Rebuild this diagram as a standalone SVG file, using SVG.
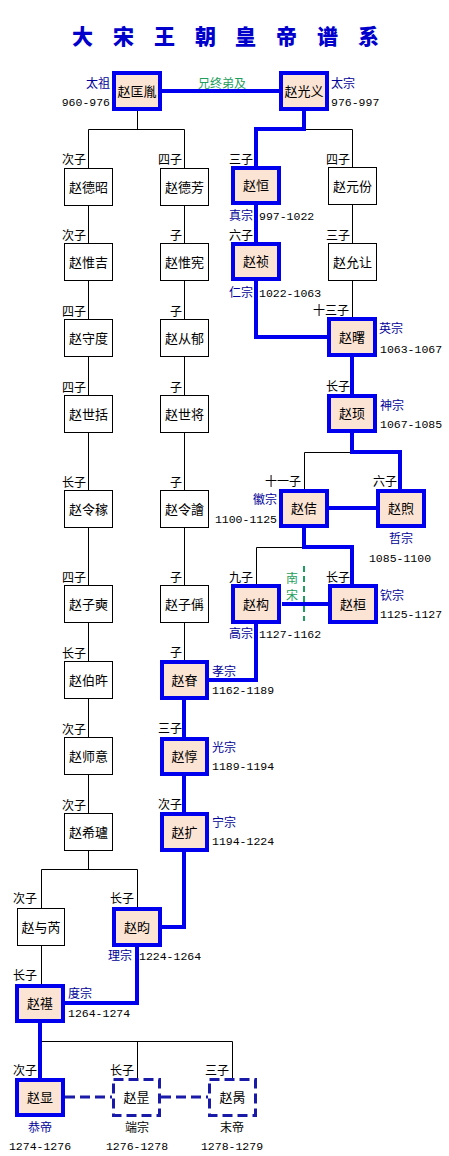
<svg xmlns="http://www.w3.org/2000/svg" width="449" height="1156" viewBox="0 0 449 1156">
<style>
text{font-family:"Noto Sans CJK SC","Liberation Sans",sans-serif;}
.title{font-size:21px;font-weight:900;fill:#0000cc;}
.nm{font-size:13px;fill:#000;text-anchor:middle;}
.lb{font-size:12px;fill:#000;text-anchor:end;}
.rg{font-size:12px;fill:#000099;}
.yr{font-family:"Liberation Mono",monospace;font-size:11.5px;fill:#000;}
.mid{text-anchor:middle;}
.end{text-anchor:end;}
.plain{fill:#fff;stroke:#000;stroke-width:1;}
.emp{fill:#fce4d4;stroke:#0000ee;stroke-width:4;}
.dash{fill:#fff;stroke:#1a1aa8;stroke-width:3;stroke-dasharray:10 5;}
.thin{fill:none;stroke:#000;stroke-width:1;}
.blue{fill:none;stroke:#0000ee;stroke-width:4;}
.bdash{fill:none;stroke:#1a1aa8;stroke-width:3;stroke-dasharray:10 5;}
.gdash{fill:none;stroke:#1e9e5e;stroke-width:2;stroke-dasharray:6 4;}
.green{font-size:12px;fill:#1e9e5e;}
</style>
<rect width="449" height="1156" fill="#fff"/>
<text class="title" x="72 113 154 195 235 276 317 358" y="44">大宋王朝皇帝谱系</text>

<g id="connectors">
  <g class="thin">
    <path d="M137.5 111V129.5M88.5 129.5H184.5M88.5 129.5V869M184.5 129.5V660"/>
    <path d="M304 129.5H352.5V318"/>
    <path d="M352 452.5H304.5V489"/>
    <path d="M304 547.5H256.5V584"/>
    <path d="M41.5 869.5H137.5V907M41.5 869.5V946V984"/>
    <path d="M40.5 1041.5H232.5V1078M137.5 1041.5V1078"/>
  </g>
  <g class="blue">
    <path d="M162 91H279"/>
    <path d="M304 111V129H256V167"/>
    <path d="M256 205V243"/>
    <path d="M256 281V337H327"/>
    <path d="M352 357V395"/>
    <path d="M352 433V452H400V489"/>
    <path d="M329 508H376"/>
    <path d="M304 528V547H352V584"/>
    <path d="M282 604H328"/>
    <path d="M256 624V680H209"/>
    <path d="M184 700V737"/>
    <path d="M184 776V812"/>
    <path d="M184 852V927H162"/>
    <path d="M137 947V1003H65"/>
    <path d="M40 1023V1078"/>
  </g>
  <path class="bdash" d="M65 1097H112M161 1097H208"/>
  <path class="gdash" d="M304 566V621"/>
</g>

<text class="green" x="222" y="88" text-anchor="middle">兄终弟及</text>
<text class="green" x="292" y="583" text-anchor="middle">南</text>
<text class="green" x="292" y="600" text-anchor="middle">宋</text>

<!-- emperors -->
<g id="n-kuangyin"><rect class="emp" x="114" y="73" width="46" height="36"/><text class="nm" x="137" y="96">赵匡胤</text>
<text class="rg end" x="110" y="88">太祖</text><text class="yr end" x="110" y="106">960-976</text></g>
<g id="n-guangyi"><rect class="emp" x="281" y="73" width="46" height="36"/><text class="nm" x="304" y="96">赵光义</text>
<text class="rg" x="331" y="88">太宗</text><text class="yr" x="331" y="106">976-997</text></g>
<g id="n-heng"><rect class="emp" x="233" y="168" width="46" height="35"/><text class="nm" x="256" y="190">赵恒</text>
<text class="lb" x="253" y="164">三子</text><text class="rg" x="229" y="220">真宗</text><text class="yr" x="259" y="220">997-1022</text></g>
<g id="n-zhen"><rect class="emp" x="233" y="244" width="46" height="35"/><text class="nm" x="256" y="266">赵祯</text>
<text class="lb" x="253" y="240">六子</text><text class="rg" x="229" y="297">仁宗</text><text class="yr" x="259" y="297">1022-1063</text></g>
<g id="n-yuanfen"><rect class="plain" x="328.5" y="167.5" width="48" height="37"/><text class="nm" x="352.5" y="191">赵元份</text>
<text class="lb" x="350" y="164">四子</text></g>
<g id="n-yunrang"><rect class="plain" x="328.5" y="243.5" width="48" height="37"/><text class="nm" x="352.5" y="267">赵允让</text>
<text class="lb" x="350" y="240">三子</text></g>
<g id="n-shu"><rect class="emp" x="329" y="319" width="46" height="36"/><text class="nm" x="352" y="342">赵曙</text>
<text class="lb" x="349" y="315">十三子</text><text class="rg" x="379" y="333">英宗</text><text class="yr" x="380" y="353">1063-1067</text></g>
<g id="n-xu"><rect class="emp" x="329" y="396" width="46" height="35"/><text class="nm" x="352" y="418">赵顼</text>
<text class="lb" x="350" y="391">长子</text><text class="rg" x="380" y="410">神宗</text><text class="yr" x="380" y="428">1067-1085</text></g>
<g id="n-ji"><rect class="emp" x="281" y="491" width="46" height="35"/><text class="nm" x="304" y="513">赵佶</text>
<text class="lb" x="301" y="486">十一子</text><text class="rg end" x="277" y="504">徽宗</text><text class="yr end" x="277" y="523">1100-1125</text></g>
<g id="n-xu2"><rect class="emp" x="378" y="491" width="46" height="35"/><text class="nm" x="401" y="513">赵煦</text>
<text class="lb" x="397" y="486">六子</text><text class="rg mid" x="401" y="543">哲宗</text><text class="yr mid" x="400" y="562">1085-1100</text></g>
<g id="n-gou"><rect class="emp" x="233" y="586" width="46" height="36"/><text class="nm" x="256" y="609">赵构</text>
<text class="lb" x="253" y="582">九子</text><text class="rg" x="229" y="638">高宗</text><text class="yr" x="259" y="638">1127-1162</text></g>
<g id="n-huan"><rect class="emp" x="330" y="586" width="46" height="36"/><text class="nm" x="353" y="609">赵桓</text>
<text class="lb" x="350" y="582">长子</text><text class="rg" x="380" y="600">钦宗</text><text class="yr" x="380" y="618">1125-1127</text></g>
<g id="n-shen"><rect class="emp" x="162" y="662" width="45" height="36"/><text class="nm" x="184.5" y="685">赵眘</text>
<text class="lb" x="182" y="657">子</text><text class="rg" x="212" y="676">孝宗</text><text class="yr" x="212" y="694">1162-1189</text></g>
<g id="n-dun"><rect class="emp" x="162" y="739" width="45" height="35"/><text class="nm" x="184.5" y="761">赵惇</text>
<text class="lb" x="182" y="733">三子</text><text class="rg" x="212" y="752">光宗</text><text class="yr" x="212" y="770">1189-1194</text></g>
<g id="n-kuo"><rect class="emp" x="162" y="814" width="45" height="36"/><text class="nm" x="184.5" y="837">赵扩</text>
<text class="lb" x="182" y="809">次子</text><text class="rg" x="212" y="827">宁宗</text><text class="yr" x="212" y="845">1194-1224</text></g>
<g id="n-yun"><rect class="emp" x="114" y="909" width="46" height="36"/><text class="nm" x="137" y="932">赵昀</text>
<text class="lb" x="134" y="903">长子</text><text class="rg" x="108" y="960">理宗</text><text class="yr" x="139" y="960">1224-1264</text></g>
<g id="n-qi"><rect class="emp" x="17" y="986" width="46" height="35"/><text class="nm" x="40" y="1008">赵禥</text>
<text class="lb" x="37" y="980">长子</text><text class="rg" x="68" y="998">度宗</text><text class="yr" x="68" y="1017">1264-1274</text></g>
<g id="n-xian"><rect class="emp" x="17" y="1080" width="46" height="35"/><text class="nm" x="40" y="1102">赵显</text>
<text class="lb" x="37" y="1075">次子</text><text class="rg mid" x="40" y="1132">恭帝</text><text class="yr mid" x="40" y="1150">1274-1276</text></g>
<g id="n-shi"><rect class="dash" x="113.5" y="1079.5" width="46" height="36"/><text class="nm" x="136.5" y="1102">赵昰</text>
<text class="lb" x="134" y="1075">长子</text><text class="lb mid" x="137" y="1132">端宗</text><text class="yr mid" x="137" y="1150">1276-1278</text></g>
<g id="n-bing"><rect class="dash" x="209.5" y="1079.5" width="46" height="36"/><text class="nm" x="232.5" y="1102">赵昺</text>
<text class="lb" x="229" y="1075">三子</text><text class="lb mid" x="232" y="1132">末帝</text><text class="yr mid" x="232" y="1150">1278-1279</text></g>

<!-- left branch (太祖 line) -->
<g id="n-dezhao"><rect class="plain" x="64.5" y="168.5" width="48" height="37"/><text class="nm" x="88.5" y="192">赵德昭</text><text class="lb" x="86" y="164">次子</text></g>
<g id="n-weiji"><rect class="plain" x="64.5" y="243.5" width="48" height="37"/><text class="nm" x="88.5" y="267">赵惟吉</text><text class="lb" x="86" y="240">次子</text></g>
<g id="n-shoudu"><rect class="plain" x="64.5" y="319.5" width="48" height="37"/><text class="nm" x="88.5" y="343">赵守度</text><text class="lb" x="86" y="316">四子</text></g>
<g id="n-shikuo"><rect class="plain" x="64.5" y="395.5" width="48" height="37"/><text class="nm" x="88.5" y="419">赵世括</text><text class="lb" x="86" y="392">四子</text></g>
<g id="n-lingjia"><rect class="plain" x="64.5" y="490.5" width="48" height="37"/><text class="nm" x="88.5" y="514">赵令稼</text><text class="lb" x="86" y="487">长子</text></g>
<g id="n-zishi"><rect class="plain" x="64.5" y="585.5" width="48" height="37"/><text class="nm" x="88.5" y="609">赵子奭</text><text class="lb" x="86" y="582">四子</text></g>
<g id="n-bowu"><rect class="plain" x="64.5" y="661.5" width="48" height="37"/><text class="nm" x="88.5" y="685">赵伯旿</text><text class="lb" x="86" y="658">长子</text></g>
<g id="n-shiyi"><rect class="plain" x="64.5" y="737.5" width="48" height="37"/><text class="nm" x="88.5" y="761">赵师意</text><text class="lb" x="86" y="734">次子</text></g>
<g id="n-xilu"><rect class="plain" x="64.5" y="813.5" width="48" height="37"/><text class="nm" x="88.5" y="837">赵希瓐</text><text class="lb" x="86" y="810">次子</text></g>
<g id="n-yurui"><rect class="plain" x="17.5" y="908.5" width="47" height="37"/><text class="nm" x="41" y="932">赵与芮</text><text class="lb" x="37" y="903">次子</text></g>

<!-- 德芳 line -->
<g id="n-defang"><rect class="plain" x="160.5" y="168.5" width="48" height="37"/><text class="nm" x="184.5" y="192">赵德芳</text><text class="lb" x="182" y="164">四子</text></g>
<g id="n-weixian"><rect class="plain" x="160.5" y="243.5" width="48" height="37"/><text class="nm" x="184.5" y="267">赵惟宪</text><text class="lb" x="182" y="240">子</text></g>
<g id="n-congyu"><rect class="plain" x="160.5" y="319.5" width="48" height="37"/><text class="nm" x="184.5" y="343">赵从郁</text><text class="lb" x="182" y="316">子</text></g>
<g id="n-shijiang"><rect class="plain" x="160.5" y="395.5" width="48" height="37"/><text class="nm" x="184.5" y="419">赵世将</text><text class="lb" x="182" y="392">子</text></g>
<g id="n-linghui"><rect class="plain" x="160.5" y="490.5" width="48" height="37"/><text class="nm" x="184.5" y="514">赵令譮</text><text class="lb" x="182" y="487">子</text></g>
<g id="n-zicheng"><rect class="plain" x="160.5" y="585.5" width="48" height="37"/><text class="nm" x="184.5" y="609">赵子偁</text><text class="lb" x="182" y="582">子</text></g>
</svg>
